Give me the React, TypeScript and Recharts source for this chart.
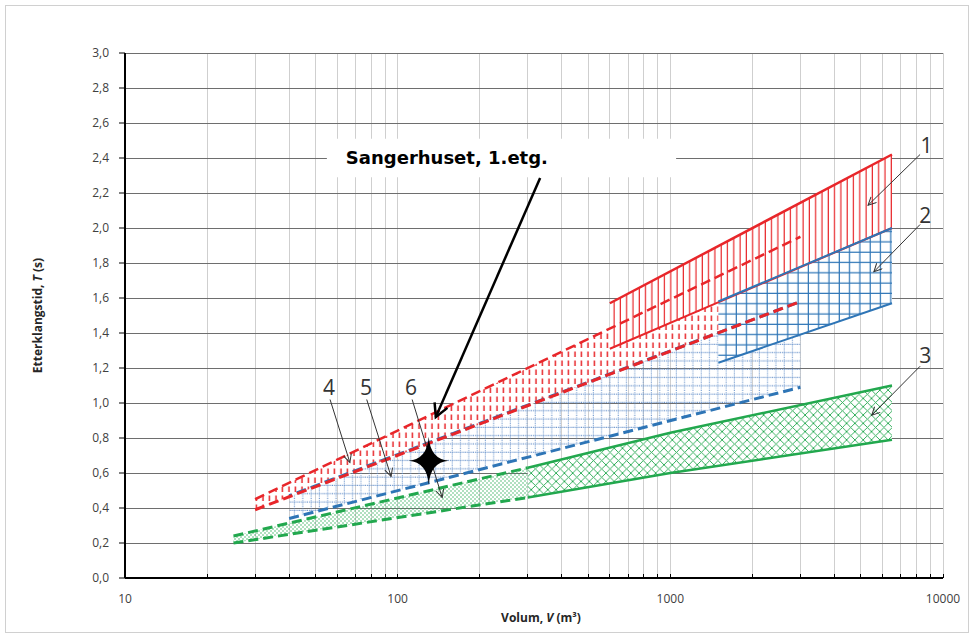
import React from "react";
import {
  ComposedChart,
  Area,
  Line,
  Scatter,
  XAxis,
  YAxis,
  CartesianGrid,
  ReferenceLine,
  ReferenceArea,
  ReferenceDot,
} from "recharts";

// volume axis (log) and reverberation time axis
const xTicks = [
  10, 20, 30, 40, 50, 60, 70, 80, 90, 100, 200, 300, 400, 500, 600, 700, 800,
  900, 1000, 2000, 3000, 4000, 5000, 6000, 7000, 8000, 9000, 10000,
];
const xLabels = [10, 100, 1000, 10000];
const yTicks = [0, 0.2, 0.4, 0.6, 0.8, 1.0, 1.2, 1.4, 1.6, 1.8, 2.0, 2.2, 2.4, 2.6, 2.8, 3.0];

// band 1 (red, solid)
const band1V = [600, 6500];
const band1Hi = [1.57, 2.42];
const band1Lo = [1.31, 2.0];
// band 2 (blue, solid)
const band2V = [1500, 6500];
const band2Hi = [1.58, 2.0];
const band2Lo = [1.23, 1.57];
// band 3 (green, solid)
const band3V = [300, 1000, 6500];
const band3Hi = [0.63, 0.83, 1.1];
const band3Lo = [0.46, 0.6, 0.79];
// band 4 (red, dashed)
const band4V = [30, 3000];
const band4Hi = [0.45, 1.95];
const band4Lo = [0.39, 1.58];
// band 5 (blue, dashed)
const band5V = [40, 3000];
const band5Hi = [0.47, 1.58];
const band5Lo = [0.34, 1.09];
// band 6 (green, dashed)
const band6V = [25, 300];
const band6Hi = [0.24, 0.63];
const band6Lo = [0.2, 0.46];

// measured room
const starV = [130];
const starT = [0.67];

// band numbers and their pointer arrows [labelV, labelT, fromV, fromT, toV, toT]
const bandNames = ["1", "2", "3", "4", "5", "6"];
const bandNotes = [
  [8700, 2.47, 8240, 2.42, 5310, 2.13],
  [8600, 2.07, 8240, 2.02, 5580, 1.75],
  [8600, 1.27, 8240, 1.21, 5480, 0.93],
  [56, 1.09, 56.5, 1.02, 66.8, 0.66],
  [76.5, 1.09, 77, 1.02, 94.6, 0.58],
  [112, 1.09, 113, 1.02, 145.6, 0.46],
];

const RED = "#e8262a";
const BLUE = "#2e75b6";
const GREEN = "#22a84e";

const range = (vs: number[], lo: number[], hi: number[]) =>
  vs.map((v, i) => ({ v, r: [lo[i], hi[i]] }));
const line = (vs: number[], ts: number[]) => vs.map((v, i) => ({ v, t: ts[i] }));

const starData = line(starV, starT);

function StarShape(props: any) {
  const { cx, cy } = props;
  return (
    <path
      transform={`translate(${cx},${cy})`}
      d="M0,-24 Q1.6,-1.6 20,0 Q1.6,1.6 0,24 Q-1.6,1.6 -20,0 Q-1.6,-1.6 0,-24 Z"
      fill="#000"
    />
  );
}

function arrow(id: string, color: string, width: number) {
  return (p: any) => (
    <line
      x1={p.x1}
      y1={p.y1}
      x2={p.x2}
      y2={p.y2}
      stroke={color}
      strokeWidth={width}
      markerEnd={`url(#${id})`}
    />
  );
}

const fmtY = (v: number) => v.toFixed(1).replace(".", ",");
const fmtX = (v: number) => (xLabels.includes(v) ? String(v) : "");

export default function App() {
  const dashed = "10 5";
  return (
    <div style={{ position: "absolute", left: 0, top: 0, width: 974, height: 638, background: "#fff" }}>
      <div
        style={{
          position: "absolute",
          left: 5,
          top: 5,
          width: 962,
          height: 626,
          border: "1px solid #d0d0d0",
          pointerEvents: "none",
        }}
      />
      <ComposedChart width={974} height={638} margin={{ top: 53, right: 31, bottom: 0, left: 0 }}>
        <defs>
          <pattern id="p1" patternUnits="userSpaceOnUse" width="6.3" height="10">
            <rect width="6.3" height="10" fill="#fff" />
            <line x1="3" y1="0" x2="3" y2="10" stroke={RED} strokeWidth="1.2" />
          </pattern>
          <pattern id="p2" patternUnits="userSpaceOnUse" width="10.3" height="10.3">
            <rect width="10.3" height="10.3" fill="#fff" />
            <line x1="5" y1="0" x2="5" y2="10.3" stroke={BLUE} strokeWidth="1.2" />
            <line x1="0" y1="5" x2="10.3" y2="5" stroke={BLUE} strokeWidth="1.2" />
          </pattern>
          <pattern id="p3" patternUnits="userSpaceOnUse" width="8.3" height="8.3">
            <rect width="8.3" height="8.3" fill="#fff" />
            <line x1="0" y1="0" x2="8.3" y2="8.3" stroke={GREEN} strokeWidth="0.9" />
            <line x1="8.3" y1="0" x2="0" y2="8.3" stroke={GREEN} strokeWidth="0.9" />
          </pattern>
          <pattern id="p4" patternUnits="userSpaceOnUse" width="6.5" height="9">
            <rect width="6.5" height="9" fill="#fff" />
            <line x1="3" y1="0.5" x2="3" y2="6" stroke={RED} strokeWidth="1.5" />
          </pattern>
          <pattern id="p5" patternUnits="userSpaceOnUse" width="8.3" height="8.3">
            <line x1="4" y1="0" x2="4" y2="8.3" stroke="#5f8cc8" strokeWidth="1" strokeDasharray="1 1" />
            <line x1="0" y1="4" x2="8.3" y2="4" stroke="#5f8cc8" strokeWidth="1" strokeDasharray="1 1" />
          </pattern>
          <pattern id="p6" patternUnits="userSpaceOnUse" width="4" height="4">
            <circle cx="1" cy="1" r="0.7" fill={GREEN} />
            <circle cx="3" cy="3" r="0.7" fill={GREEN} />
          </pattern>
          <marker id="headBig" markerWidth="20" markerHeight="20" refX="14" refY="8" orient="auto" markerUnits="userSpaceOnUse">
            <path d="M1,1 L14,8 L1,15" fill="none" stroke="#000" strokeWidth="2.5" />
          </marker>
          <marker id="headThin" markerWidth="12" markerHeight="12" refX="9" refY="4.5" orient="auto" markerUnits="userSpaceOnUse">
            <path d="M1,0.5 L9,4.5 L1,8.5" fill="none" stroke="#333" strokeWidth="1" />
          </marker>
        </defs>

        <CartesianGrid horizontal={false} stroke="#cfcfcf" shapeRendering="crispEdges" />
        <CartesianGrid vertical={false} stroke="#6e6e6e" shapeRendering="crispEdges" />

        <XAxis
          dataKey="v"
          type="number"
          scale="log"
          domain={[10, 10000]}
          ticks={xTicks}
          interval={0}
          tickFormatter={fmtX}
          height={60}
          tickLine={false}
          tickSize={6}
          tickMargin={10}
          axisLine={{ stroke: "#000", strokeWidth: 2 }}
          tick={{ fontSize: 12, fill: "#404040", fontFamily: "Open Sans" }}
          label={{
            content: (p: any) => (
              <text
                x={p.viewBox.x + p.viewBox.width / 2 + 7}
                y={622}
                textAnchor="middle"
                fontSize={12}
                fontWeight="bold"
                fontFamily="Open Sans"
                fill="#262626"
              >
                Volum, <tspan fontStyle="italic">V</tspan> (m³)
              </text>
            ),
          }}
        />
        <YAxis
          type="number"
          domain={[0, 3]}
          ticks={yTicks}
          interval={0}
          tickFormatter={fmtY}
          width={125}
          tickSize={6}
          tickMargin={10}
          axisLine={{ stroke: "#000", strokeWidth: 2 }}
          tickLine={{ stroke: "#000" }}
          tick={{ fontSize: 12, fill: "#404040", fontFamily: "Open Sans" }}
          label={{
            content: (p: any) => {
              const cy = p.viewBox.y + p.viewBox.height / 2;
              return (
                <text
                  x={42}
                  y={cy}
                  transform={`rotate(-90 42 ${cy})`}
                  textAnchor="middle"
                  fontSize={12}
                  fontWeight="bold"
                  fontFamily="Open Sans"
                  fill="#262626"
                >
                  Etterklangstid, <tspan fontStyle="italic">T</tspan> (s)
                </text>
              );
            },
          }}
        />

        <Area data={range(band5V, band5Lo, band5Hi)} dataKey="r" type="linear" stroke="none" fill="url(#p5)" fillOpacity={1} isAnimationActive={false} activeDot={false} />
        <Area data={range(band6V, band6Lo, band6Hi)} dataKey="r" type="linear" stroke="none" fill="url(#p6)" fillOpacity={1} isAnimationActive={false} activeDot={false} />
        <Area data={range(band4V, band4Lo, band4Hi)} dataKey="r" type="linear" stroke="none" fill="url(#p4)" fillOpacity={1} isAnimationActive={false} activeDot={false} />
        <Area data={range(band3V, band3Lo, band3Hi)} dataKey="r" type="linear" stroke="none" fill="url(#p3)" fillOpacity={1} isAnimationActive={false} activeDot={false} />
        <Area data={range(band2V, band2Lo, band2Hi)} dataKey="r" type="linear" stroke="none" fill="url(#p2)" fillOpacity={1} isAnimationActive={false} activeDot={false} />
        <Area data={range(band1V, band1Lo, band1Hi)} dataKey="r" type="linear" stroke="none" fill="url(#p1)" fillOpacity={1} isAnimationActive={false} activeDot={false} />

        <Line data={line(band6V, band6Hi)} dataKey="t" type="linear" stroke={GREEN} strokeWidth={3} strokeDasharray={dashed} dot={false} activeDot={false} isAnimationActive={false} />
        <Line data={line(band6V, band6Lo)} dataKey="t" type="linear" stroke={GREEN} strokeWidth={3} strokeDasharray={dashed} dot={false} activeDot={false} isAnimationActive={false} />
        <Line data={line(band3V, band3Hi)} dataKey="t" type="linear" stroke={GREEN} strokeWidth={2.5} dot={false} activeDot={false} isAnimationActive={false} />
        <Line data={line(band3V, band3Lo)} dataKey="t" type="linear" stroke={GREEN} strokeWidth={2.5} dot={false} activeDot={false} isAnimationActive={false} />
        <Line data={line(band5V, band5Lo)} dataKey="t" type="linear" stroke={BLUE} strokeWidth={3} strokeDasharray={dashed} dot={false} activeDot={false} isAnimationActive={false} />
        <Line data={line(band5V, band5Hi)} dataKey="t" type="linear" stroke={BLUE} strokeWidth={3} strokeDasharray={dashed} strokeDashoffset={7} dot={false} activeDot={false} isAnimationActive={false} />
        <Line data={line(band4V, band4Lo)} dataKey="t" type="linear" stroke={RED} strokeWidth={3} strokeDasharray={dashed} dot={false} activeDot={false} isAnimationActive={false} />
        <Line data={line(band4V, band4Hi)} dataKey="t" type="linear" stroke={RED} strokeWidth={2.5} strokeDasharray={dashed} dot={false} activeDot={false} isAnimationActive={false} />
        <Line data={line(band1V, band1Lo)} dataKey="t" type="linear" stroke={RED} strokeWidth={2} dot={false} activeDot={false} isAnimationActive={false} />
        <Line data={line(band1V, band1Hi)} dataKey="t" type="linear" stroke={RED} strokeWidth={2.5} dot={false} activeDot={false} isAnimationActive={false} />
        <Line data={line(band2V, band2Hi)} dataKey="t" type="linear" stroke={BLUE} strokeWidth={2} dot={false} activeDot={false} isAnimationActive={false} />
        <Line data={line(band2V, band2Lo)} dataKey="t" type="linear" stroke={BLUE} strokeWidth={2} dot={false} activeDot={false} isAnimationActive={false} />

        {xTicks.map((v) => (
          <ReferenceLine key={`mt${v}`} segment={[{ x: v, y: 0 }, { x: v, y: 0.025 }]} stroke="#000" strokeWidth={1} shapeRendering="crispEdges" />
        ))}

        <ReferenceArea
          x1={55}
          x2={1050}
          y1={2.29}
          y2={2.51}
          fill="#fff"
          fillOpacity={1}
          stroke="none"
          label={{
            value: "Sangerhuset, 1.etg.",
            position: "insideLeft",
            offset: 19,
            fontSize: 18,
            fontWeight: "bold",
            fontFamily: "DejaVu Sans",
            fill: "#000",
          }}
        />
        <ReferenceLine
          segment={[{ x: 333, y: 2.286 }, { x: 138, y: 0.92 }]}
          shape={arrow("headBig", "#000", 2.5)}
        />

        {bandNotes.map((n, i) => (
          <ReferenceLine
            key={`na${i}`}
            segment={[{ x: n[2], y: n[3] }, { x: n[4], y: n[5] }]}
            shape={arrow("headThin", "#333", 1)}
          />
        ))}
        {bandNotes.map((n, i) => (
          <ReferenceDot
            key={`nl${i}`}
            x={n[0]}
            y={n[1]}
            r={1}
            fill="none"
            stroke="none"
            label={{ value: bandNames[i], position: "center", fontSize: 21, fill: "#333", fontFamily: "Open Sans" }}
          />
        ))}

        <Scatter data={starData} dataKey="t" shape={StarShape} isAnimationActive={false} />
      </ComposedChart>
    </div>
  );
}
